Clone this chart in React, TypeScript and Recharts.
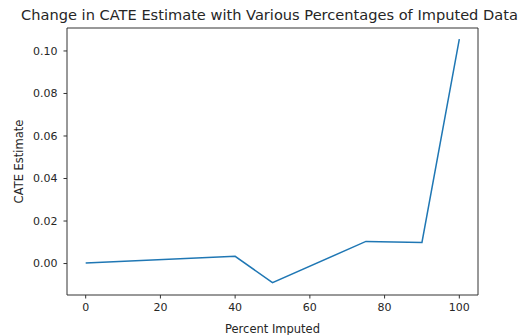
import { LineChart, Line, XAxis, YAxis, ReferenceLine } from 'recharts'

// percent of data imputed vs. resulting CATE estimate
const percentImputed = [0, 40, 50, 75, 90, 100]
const cateEstimate = [0.0003, 0.0034, -0.009, 0.0104, 0.0099, 0.1056]

const xTicks = [0, 20, 40, 60, 80, 100]
const yTicks = [0, 0.02, 0.04, 0.06, 0.08, 0.1]

const X_DOMAIN: [number, number] = [-5, 105]
const Y_DOMAIN: [number, number] = [-0.0148, 0.1108]

const data = percentImputed.map((p, i) => ({ pct: p, cate: cateEstimate[i] }))

const FONT = '"DejaVu Sans", sans-serif'
const INK = '#262626'
const SPINE = '#333'

export default function App() {
  return (
    <div style={{ position: 'fixed', left: 0, top: 0, width: 525, height: 335, background: '#fff', fontFamily: FONT }}>
      <div
        style={{
          position: 'absolute', left: 0, width: 539, top: 6, textAlign: 'center',
          fontSize: 14.6, color: INK, whiteSpace: 'nowrap', lineHeight: '17px',
        }}
      >
        Change in CATE Estimate with Various Percentages of Imputed Data
      </div>
      <LineChart width={525} height={335} data={data} margin={{ top: 28, right: 47, left: 0, bottom: 0 }}>
        <XAxis
          dataKey="pct"
          type="number"
          domain={X_DOMAIN}
          ticks={xTicks}
          height={40}
          tickSize={3.5}
          tickMargin={5}
          stroke={SPINE}
          tick={{ fill: INK, fontSize: 11, fontFamily: FONT }}
          label={{ value: 'Percent Imputed', position: 'insideBottom', offset: 2, fill: INK, fontSize: 11.5, fontFamily: FONT }}
        />
        <YAxis
          type="number"
          domain={Y_DOMAIN}
          ticks={yTicks}
          width={67}
          tickSize={3.5}
          tickMargin={6}
          stroke={SPINE}
          tickFormatter={(v: number) => v.toFixed(2)}
          tick={{ fill: INK, fontSize: 11, fontFamily: FONT }}
          label={{ value: 'CATE Estimate', angle: -90, position: 'insideLeft', offset: 19, fill: INK, fontSize: 11.5, fontFamily: FONT, style: { textAnchor: 'middle' } }}
        />
        {/* top and right spines */}
        <ReferenceLine y={Y_DOMAIN[1]} stroke={SPINE} />
        <ReferenceLine x={X_DOMAIN[1]} stroke={SPINE} />
        <Line
          dataKey="cate"
          type="linear"
          stroke="#1f77b4"
          strokeWidth={1.5}
          dot={false}
          activeDot={false}
          isAnimationActive={false}
        />
      </LineChart>
    </div>
  )
}
